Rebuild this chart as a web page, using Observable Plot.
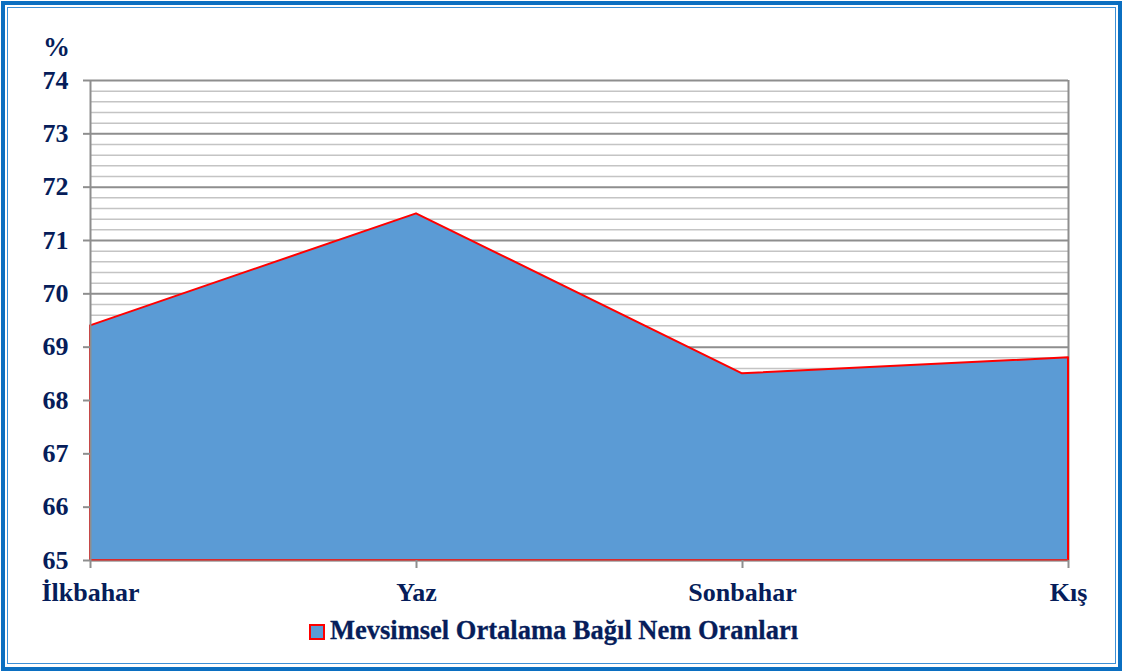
<!DOCTYPE html>
<html>
<head>
<meta charset="utf-8">
<script src="https://cdn.jsdelivr.net/npm/d3@7"></script>
<script src="https://cdn.jsdelivr.net/npm/@observablehq/plot@0.6"></script>
<style>
  html, body { margin: 0; padding: 0; background: #ffffff; }
  #page { position: relative; width: 1123px; height: 672px; overflow: hidden; background: #ffffff; }
  .outer { position: absolute; left: 1px; top: 1px; width: 1113px; height: 662px; border: 4px solid #0b6fc1; }
  .inner { position: absolute; left: 7px; top: 7px; width: 1107px; height: 655px; border: 1.5px solid #3c8fd6; }
  #chart { position: absolute; left: 0; top: 0; }
  #legend { position: absolute; left: 309px; top: 617px; font-family: "Liberation Serif", "Times New Roman", serif;
            font-size: 26.5px; font-weight: bold; line-height: 26px; color: #061d5a; white-space: nowrap;
            -webkit-text-stroke: 0.3px #061d5a; }
  #legend .sw { display: inline-block; width: 12px; height: 12px; background: #5b9bd5; border: 2px solid #ff0000;
                margin-right: 5px; vertical-align: -1px; }
</style>
</head>
<body>
<div id="page">
  <div class="outer"></div>
  <div class="inner"></div>
  <div id="chart"></div>
  <div id="legend"><span class="sw"></span>Mevsimsel Ortalama Bağıl Nem Oranları</div>
</div>
<script>
const seasons = ["İlkbahar", "Yaz", "Sonbahar", "Kış"];
const values = [69.4, 71.5, 68.5, 68.8];
const yTicks = [65, 66, 67, 68, 69, 70, 71, 72, 73, 74];
const yMinorTicks = d3.range(65, 74.001, 0.2).map(v => Math.round(v * 10) / 10).filter(v => !Number.isInteger(v));
const seriesName = "Mevsimsel Ortalama Bağıl Nem Oranları";
const unitLabel = "%";

const data = seasons.map((s, i) => ({season: s, value: values[i]}));
const textColor = "#061d5a";

const chart = Plot.plot({
  width: 1123,
  height: 612,
  marginLeft: 90,
  marginRight: 55,
  marginTop: 80,
  marginBottom: 52,
  style: {
    fontFamily: "'Liberation Serif', 'Times New Roman', serif",
    fontSize: "26px",
    fontWeight: "bold",
    background: "transparent",
    overflow: "visible"
  },
  x: {type: "point", domain: seasons, padding: 0},
  y: {domain: [65, 74]},
  marks: [
    Plot.ruleY(yMinorTicks, {stroke: "#c4c4c4", strokeWidth: 1.5}),
    Plot.ruleY(yTicks, {stroke: "#8e8e8e", strokeWidth: 2}),
    Plot.ruleX([seasons[seasons.length - 1]], {stroke: "#8e8e8e", strokeWidth: 2}),
    Plot.areaY(data, {x: "season", y1: 65, y2: "value", fill: "#5b9bd5", stroke: "#ff0000", strokeWidth: 2}),
    Plot.ruleX([seasons[0]], {stroke: "#8e8e8e", strokeWidth: 2}),
    Plot.ruleY([65], {stroke: "#8e8e8e", strokeWidth: 2, strokeOpacity: 0.6}),
    Plot.axisY({ticks: yTicks, tickFormat: d => String(d), tickSize: 7, tickPadding: 15,
                stroke: "#8e8e8e", strokeWidth: 2, fill: textColor, fontSize: 26, fontWeight: "bold", label: null}),
    Plot.axisX({tickSize: 8, tickPadding: 14, stroke: "#8e8e8e", strokeWidth: 2,
                fill: textColor, fontSize: 26, fontWeight: "bold", label: null}),
    Plot.text([unitLabel], {frameAnchor: "top-left", dx: -34, dy: -25, lineAnchor: "bottom", textAnchor: "middle",
                fill: textColor, fontSize: 27, fontWeight: "bold"})
  ]
});
document.getElementById("chart").appendChild(chart);
</script>
</body>
</html>
